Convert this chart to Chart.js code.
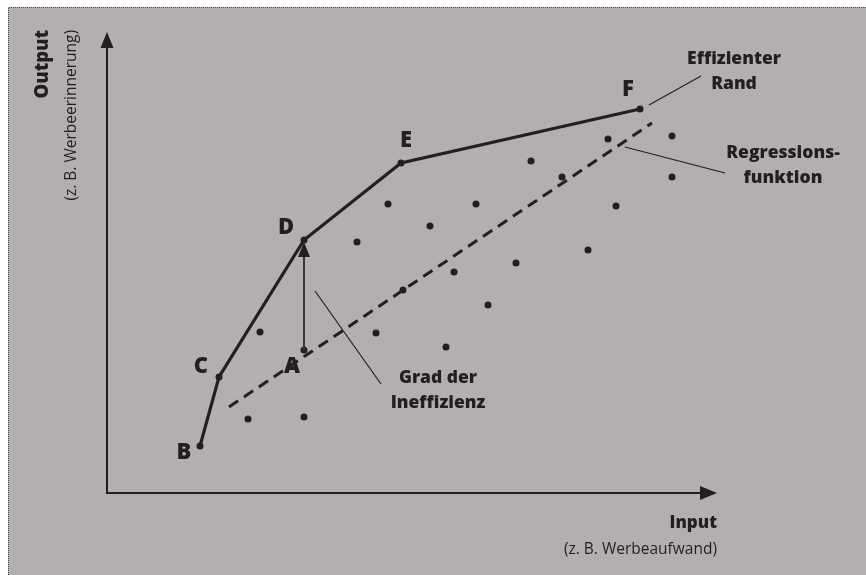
<!DOCTYPE html>
<html>
<head>
<meta charset="utf-8">
<script src="https://cdn.jsdelivr.net/npm/chart.js@4.4.1/dist/chart.umd.min.js"></script>
<style>
html,body{margin:0;padding:0;background:#fff;}
#wrap{width:866px;height:575px;position:relative;}
</style>
</head>
<body>
<div id="wrap"><canvas id="c" width="866" height="575"></canvas></div>
<script>
// ---- Data (schematic units: input on x, output on y) ----
const frontierNames = ['B', 'C', 'D', 'E', 'F'];
const frontierX = [93, 112, 197, 294, 533];
const frontierY = [47, 116, 253, 330, 384];

const pointA = { name: 'A', x: 197, y: 143 };

const regressionX = [122, 545];
const regressionY = [86, 370];

const scatterX = [141, 197, 153, 197, 250, 281, 323, 369, 347, 409, 296, 269, 339, 381, 501, 565, 565, 509, 455, 424, 481];
const scatterY = [74, 76, 161, 143, 251, 289, 267, 289, 221, 230, 203, 160, 146, 188, 354, 357, 316, 287, 316, 332, 243];

const axisMaxX = 610;
const axisMaxY = 461;

const xTitle = 'Input';
const xSubtitle = '(z. B. Werbeaufwand)';
const yTitle = 'Output';
const ySubtitle = '(z. B. Werbeerinnerung)';

// annotation callouts: line from -> to, text lines centred at textX/textY
const calloutTexts = [['Effizienter', 'Rand'], ['Regressions-', 'funktion'], ['Grad der', 'Ineffizienz']];
const calloutLineX = [[542, 594], [518, 618], [208, 274]];
const calloutLineY = [[388, 417], [346, 320], [202, 109]];
const calloutTextX = [627, 676, 331];
const calloutTextY = [434, 340, 115];

// ---- Chart ----
const INK = '#231f20';
const BG = '#b3afaf';
const FONT = '"Open Sans", "DejaVu Sans", sans-serif';

const pts = (xs, ys) => xs.map((x, i) => ({ x, y: ys[i] }));

const datasets = [
  {
    label: 'Regression',
    data: pts(regressionX, regressionY),
    showLine: true, borderColor: INK, borderWidth: 3, borderDash: [11, 7],
    pointRadius: 0, clip: false
  },
  {
    label: 'Ineffizienz',
    data: [{ x: pointA.x, y: pointA.y }, { x: frontierX[2], y: frontierY[2] - 14 }],
    showLine: true, borderColor: '#3a3536', borderWidth: 2,
    pointRadius: 0, clip: false
  },
  {
    label: 'Effizienter Rand',
    data: pts(frontierX, frontierY),
    showLine: true, borderColor: INK, borderWidth: 3.2,
    pointRadius: 3.5, pointBackgroundColor: INK, pointBorderWidth: 0, clip: false
  },
  {
    label: 'DMUs',
    data: pts(scatterX, scatterY),
    showLine: false, pointRadius: 3.5, pointBackgroundColor: INK, pointBorderWidth: 0, clip: false
  }
];
calloutLineX.forEach((lx, i) => {
  datasets.push({
    label: 'callout' + i,
    data: pts(lx, calloutLineY[i]),
    showLine: true, borderColor: INK, borderWidth: 1.2, pointRadius: 0, clip: false
  });
});

const decorPlugin = {
  id: 'decor',
  beforeDraw(chart) {
    const ctx = chart.ctx;
    ctx.save();
    ctx.fillStyle = '#ffffff';
    ctx.fillRect(0, 0, chart.width, chart.height);
    ctx.fillStyle = BG;
    ctx.fillRect(8, 7, chart.width - 8, chart.height - 7);
    ctx.strokeStyle = '#4a4a4a';
    ctx.lineWidth = 1;
    ctx.setLineDash([1, 1]);
    ctx.beginPath();
    ctx.moveTo(8.5, chart.height);
    ctx.lineTo(8.5, 7.5);
    ctx.lineTo(chart.width, 7.5);
    ctx.stroke();
    ctx.restore();
  },
  beforeDatasetsDraw(chart) {
    const ctx = chart.ctx;
    const xs = chart.scales.x, ys = chart.scales.y;
    const ox = xs.getPixelForValue(0), oy = ys.getPixelForValue(0);
    const tx = xs.getPixelForValue(axisMaxX), ty = ys.getPixelForValue(axisMaxY);
    ctx.save();
    ctx.strokeStyle = INK; ctx.fillStyle = INK; ctx.lineWidth = 2;
    ctx.beginPath();
    ctx.moveTo(ox, ty + 14); ctx.lineTo(ox, oy); ctx.lineTo(tx - 14, oy);
    ctx.stroke();
    // arrow heads
    ctx.beginPath();
    ctx.moveTo(ox, ty); ctx.lineTo(ox - 6.5, ty + 16); ctx.lineTo(ox + 6.5, ty + 16); ctx.closePath(); ctx.fill();
    ctx.beginPath();
    ctx.moveTo(tx, oy); ctx.lineTo(tx - 17, oy - 7); ctx.lineTo(tx - 17, oy + 7); ctx.closePath(); ctx.fill();
    ctx.restore();
  },
  afterDatasetsDraw(chart) {
    const ctx = chart.ctx;
    const xs = chart.scales.x, ys = chart.scales.y;
    const px = v => xs.getPixelForValue(v), py = v => ys.getPixelForValue(v);
    ctx.save();
    ctx.fillStyle = INK;
    // arrow head A -> D
    const dx = px(frontierX[2]), dy = py(frontierY[2]);
    ctx.beginPath();
    ctx.moveTo(dx, dy + 2); ctx.lineTo(dx - 6, dy + 17); ctx.lineTo(dx + 6, dy + 17); ctx.closePath(); ctx.fill();

    // point letters
    ctx.font = '800 22px ' + FONT;
    ctx.textAlign = 'center'; ctx.textBaseline = 'middle';
    const offs = { B: [-16, 7], C: [-18, -10], D: [-18, -12], E: [5, -22], F: [-12, -19] };
    frontierNames.forEach((n, i) => {
      ctx.fillText(n, px(frontierX[i]) + offs[n][0], py(frontierY[i]) + offs[n][1]);
    });
    ctx.fillText(pointA.name, px(pointA.x) - 12, py(pointA.y) + 17);

    // callout texts
    ctx.font = '800 17.5px ' + FONT;
    calloutTexts.forEach((lines, i) => {
      lines.forEach((t, j) => {
        ctx.fillText(t, px(calloutTextX[i]), py(calloutTextY[i]) + j * 25);
      });
    });

    // axis titles
    const tx = px(axisMaxX), oy = py(0), ox = px(0), ty = py(axisMaxY);
    ctx.textAlign = 'right';
    ctx.font = '800 17px ' + FONT;
    ctx.fillText(xTitle, tx, oy + 30);
    ctx.font = '15.5px ' + FONT;
    ctx.fillText(xSubtitle, tx, oy + 57);

    ctx.save();
    ctx.translate(ox - 64, ty - 2);
    ctx.rotate(-Math.PI / 2);
    ctx.textAlign = 'right';
    ctx.font = '800 18.5px ' + FONT;
    ctx.fillText(yTitle, 0, 0);
    ctx.restore();
    ctx.save();
    ctx.translate(ox - 35, ty - 2);
    ctx.rotate(-Math.PI / 2);
    ctx.textAlign = 'right';
    ctx.font = '15.5px ' + FONT;
    ctx.fillText(ySubtitle, 0, 0);
    ctx.restore();

    ctx.restore();
  }
};

new Chart(document.getElementById('c'), {
  type: 'scatter',
  data: { datasets },
  options: {
    responsive: false,
    animation: false,
    devicePixelRatio: 1,
    layout: { padding: { left: 107, top: 32, right: 149, bottom: 82 } },
    plugins: { legend: { display: false }, tooltip: { enabled: false } },
    scales: {
      x: { type: 'linear', min: 0, max: axisMaxX, display: false },
      y: { type: 'linear', min: 0, max: axisMaxY, display: false }
    }
  },
  plugins: [decorPlugin]
});
</script>
</body>
</html>
